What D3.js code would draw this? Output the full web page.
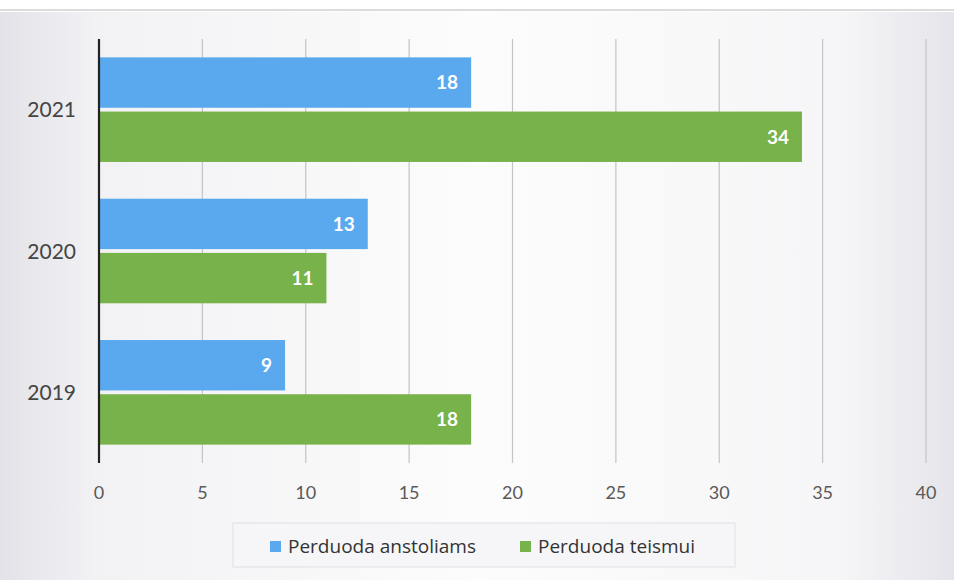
<!DOCTYPE html>
<html>
<head>
<meta charset="utf-8">
<script src="https://cdn.jsdelivr.net/npm/d3@7"></script>
<style>
  body { margin: 0; background: #fff; }
  svg { display: block; font-family: Lato, "Open Sans", sans-serif; }
</style>
</head>
<body>
<svg id="chart"></svg>
<script>
const years = ['2021', '2020', '2019'];
const seriesNames = ['Perduoda anstoliams', 'Perduoda teismui'];
const anstoliams = [18, 13, 9];
const teismui = [34, 11, 18];
const xTicks = [0, 5, 10, 15, 20, 25, 30, 35, 40];
const colors = ['#5aa9ee', '#77b24a'];

const width = 954, height = 580;
const margin = { top: 39, right: 28, bottom: 117, left: 99 };

const svg = d3.select('#chart').attr('width', width).attr('height', height);

// page background (scan look)
const defs = svg.append('defs');
const grad = defs.append('linearGradient').attr('id', 'bg').attr('x1', '0').attr('x2', '1');
grad.append('stop').attr('offset', '0').attr('stop-color', '#e2e2e8');
grad.append('stop').attr('offset', '0.1').attr('stop-color', '#f2f2f5');
grad.append('stop').attr('offset', '0.5').attr('stop-color', '#fcfcfc');
grad.append('stop').attr('offset', '0.88').attr('stop-color', '#f6f6f8');
grad.append('stop').attr('offset', '1').attr('stop-color', '#e4e4ea');

svg.append('rect').attr('x', 0).attr('y', 12).attr('width', width).attr('height', height - 12)
  .attr('fill', 'url(#bg)');
svg.append('line').attr('x1', 0).attr('x2', width).attr('y1', 10).attr('y2', 10)
  .attr('stroke', '#b8b8b8').attr('stroke-width', 1);

const data = years.map((y, i) => ({ year: y, values: [anstoliams[i], teismui[i]] }));

const x = d3.scaleLinear().domain([0, 40]).range([margin.left, width - margin.right]);
const y0 = d3.scaleBand().domain(years)
  .range([margin.top, height - margin.bottom])
  .paddingInner(0.26).paddingOuter(0.13);
const y1 = d3.scaleBand().domain(d3.range(seriesNames.length))
  .range([0, y0.bandwidth()]).paddingInner(0.07);

// gridlines
svg.append('g')
  .selectAll('line')
  .data(xTicks.slice(1))
  .enter()
  .append('line')
  .attr('x1', d => x(d)).attr('x2', d => x(d))
  .attr('y1', margin.top).attr('y2', height - margin.bottom)
  .attr('stroke', '#c4c4c8').attr('stroke-width', 1.2);

// bars
const groups = svg.append('g')
  .selectAll('g')
  .data(data)
  .enter()
  .append('g')
  .attr('transform', d => 'translate(0,' + y0(d.year) + ')');

groups.selectAll('rect')
  .data(d => d.values)
  .enter()
  .append('rect')
  .attr('x', x(0))
  .attr('y', (d, i) => y1(i))
  .attr('width', d => x(d) - x(0))
  .attr('height', y1.bandwidth())
  .attr('fill', (d, i) => colors[i]);

groups.selectAll('text')
  .data(d => d.values)
  .enter()
  .append('text')
  .attr('x', d => x(d) - 13)
  .attr('y', (d, i) => y1(i) + y1.bandwidth() / 2)
  .attr('dy', '0.36em')
  .attr('text-anchor', 'end')
  .attr('fill', '#fff')
  .attr('font-weight', 'bold')
  .attr('font-size', 19)
  .text(d => d);

// y axis line
svg.append('line')
  .attr('x1', x(0)).attr('x2', x(0))
  .attr('y1', margin.top).attr('y2', height - margin.bottom)
  .attr('stroke', '#222').attr('stroke-width', 2.2);

// x tick labels
svg.append('g')
  .selectAll('text')
  .data(xTicks)
  .enter()
  .append('text')
  .attr('x', d => x(d))
  .attr('y', 499)
  .attr('text-anchor', 'middle')
  .attr('fill', '#595959')
  .attr('font-size', 18)
  .text(d => d);

// y category labels
svg.append('g')
  .selectAll('text')
  .data(years)
  .enter()
  .append('text')
  .attr('x', 76)
  .attr('y', d => y0(d) + y0.bandwidth() / 2)
  .attr('dy', '0.36em')
  .attr('text-anchor', 'end')
  .attr('fill', '#444')
  .attr('font-size', 21)
  .text(d => d);

// legend
const legend = svg.append('g');
legend.append('rect')
  .attr('x', 233).attr('y', 523).attr('width', 502).attr('height', 44)
  .attr('fill', '#f6f6f8').attr('stroke', '#e0e0e4');

const legendX = [270, 520];
seriesNames.forEach((name, i) => {
  legend.append('rect')
    .attr('x', legendX[i]).attr('y', 541).attr('width', 11).attr('height', 11)
    .attr('fill', colors[i]);
  legend.append('text')
    .attr('x', legendX[i] + 18).attr('y', 546)
    .attr('dy', '0.36em')
    .attr('fill', '#333')
    .attr('font-family', '"Open Sans", sans-serif')
    .attr('font-size', 19)
    .text(name);
});
</script>
</body>
</html>
